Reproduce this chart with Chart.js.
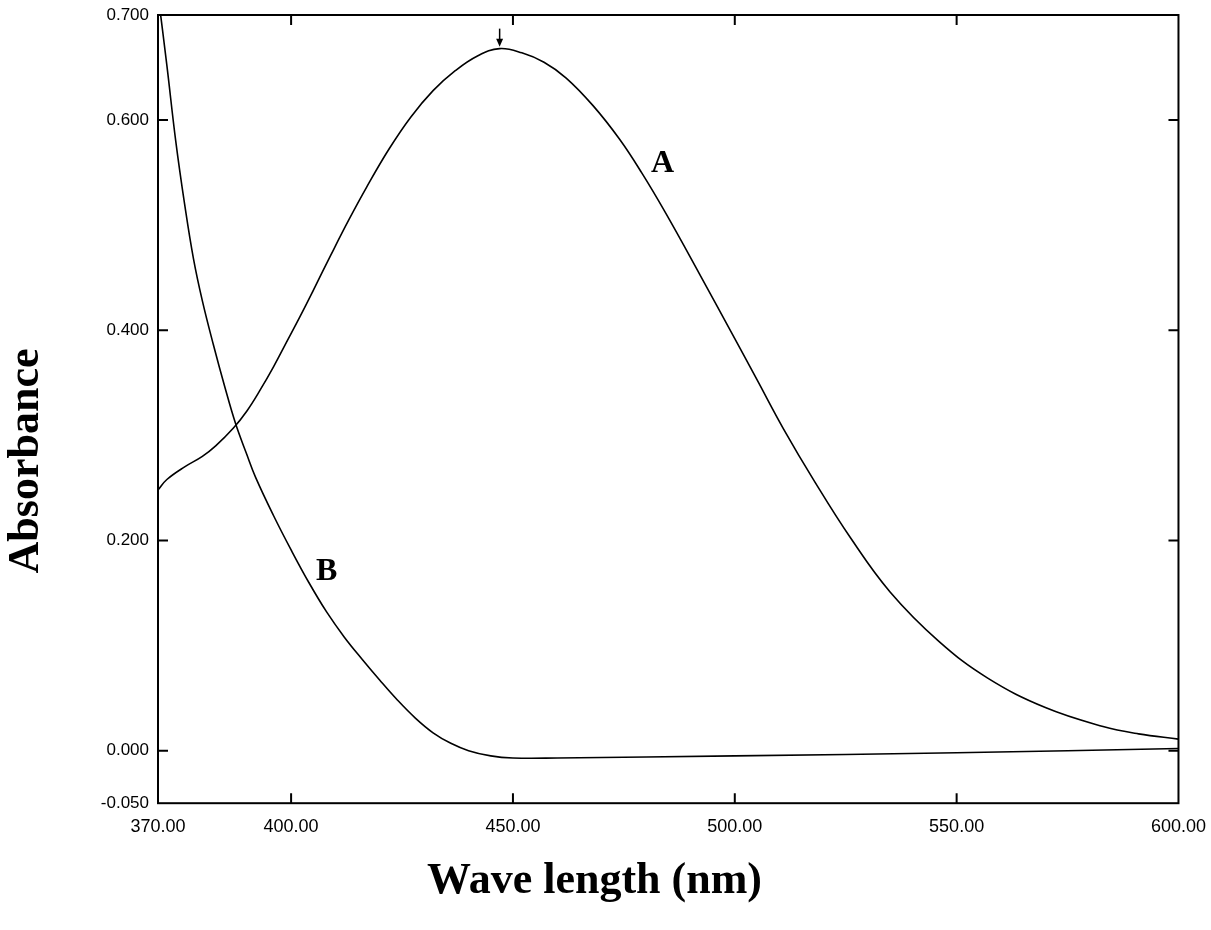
<!DOCTYPE html>
<html>
<head>
<meta charset="utf-8">
<script src="https://cdn.jsdelivr.net/npm/chart.js@4.4.1/dist/chart.umd.min.js"></script>
<style>
html, body { margin: 0; padding: 0; background: #fff; }
#wrap { width: 1211px; height: 930px; }
</style>
</head>
<body>
<div id="wrap"><canvas id="spectrum"></canvas></div>
<script>
// curve A : wavelength (nm) / absorbance
var waveA = [370, 372, 376, 380, 383, 387, 390, 393, 396, 399, 402, 405, 409, 413, 417, 422, 427, 432, 437, 442, 447,
  452, 457, 462, 468, 474, 479, 484.5, 492, 500, 505, 511, 518, 526, 535, 546, 557, 570, 583, 591, 600];
var absA = [0.248, 0.258, 0.270, 0.280, 0.290, 0.307, 0.323, 0.343, 0.365, 0.389, 0.413, 0.438, 0.472, 0.505, 0.536, 0.572, 0.603, 0.628, 0.647, 0.661, 0.668,
  0.664, 0.655, 0.640, 0.614, 0.582, 0.550, 0.511, 0.454, 0.392, 0.353, 0.306, 0.256, 0.203, 0.151, 0.104, 0.069, 0.041, 0.023, 0.016, 0.011];

// curve B
var waveB = [370, 372, 374, 376, 378, 380, 382.5, 385, 387.5, 390, 392, 396, 400, 404, 408, 412, 416, 420, 424, 428, 432, 436, 440, 445, 450, 460, 500, 550, 600];
var absB = [0.720, 0.652, 0.580, 0.520, 0.468, 0.428, 0.386, 0.347, 0.311, 0.282, 0.260, 0.224, 0.191, 0.160, 0.132, 0.108, 0.087, 0.067, 0.048, 0.031, 0.017, 0.007, 0.000, -0.005, -0.007, -0.007, -0.005, -0.002, 0.002];

var xTicks = [370, 400, 450, 500, 550, 600];
var yTicks = [-0.05, 0, 0.2, 0.4, 0.6, 0.7];

var curveNames = ['A', 'B'];
var nameX = [483.7, 408.0];
var nameY = [0.558, 0.170];

function toPoints(xs, ys) {
  return xs.map(function (v, i) { return { x: v, y: ys[i] }; });
}

/*
 frame, inward ticks, peak arrow, curve names and y title
*/
var decorations = {
  id: 'decorations',
  afterDatasetsDraw: function (chart) {
    var ctx = chart.ctx;
    var area = chart.chartArea;
    var sx = chart.scales.x;
    var sy = chart.scales.y;
    var len = 10;
    ctx.save();
    ctx.strokeStyle = '#000';
    ctx.lineWidth = 2;
    ctx.strokeRect(area.left, area.top, area.right - area.left, area.bottom - area.top);

    ctx.beginPath();
    xTicks.forEach(function (v) {
      if (v === sx.min || v === sx.max) return;
      var px = sx.getPixelForValue(v);
      ctx.moveTo(px, area.bottom);
      ctx.lineTo(px, area.bottom - len);
      ctx.moveTo(px, area.top);
      ctx.lineTo(px, area.top + len);
    });
    yTicks.forEach(function (v) {
      if (v === sy.min || v === sy.max) return;
      var py = sy.getPixelForValue(v);
      ctx.moveTo(area.left, py);
      ctx.lineTo(area.left + len, py);
      ctx.moveTo(area.right, py);
      ctx.lineTo(area.right - len, py);
    });
    ctx.stroke();

    // arrow marking the maximum of A
    var iMax = absA.indexOf(Math.max.apply(null, absA));
    var ax = sx.getPixelForValue(waveA[iMax]);
    var ay = sy.getPixelForValue(absA[iMax]);
    ctx.lineWidth = 1.5;
    ctx.beginPath();
    ctx.moveTo(ax, ay - 20);
    ctx.lineTo(ax, ay - 8);
    ctx.stroke();
    ctx.beginPath();
    ctx.moveTo(ax - 3.5, ay - 10);
    ctx.lineTo(ax + 3.5, ay - 10);
    ctx.lineTo(ax, ay - 2);
    ctx.closePath();
    ctx.fillStyle = '#000';
    ctx.fill();

    ctx.font = 'bold 32px "Liberation Serif"';
    ctx.textAlign = 'center';
    ctx.textBaseline = 'middle';
    curveNames.forEach(function (name, i) {
      ctx.fillText(name, sx.getPixelForValue(nameX[i]), sy.getPixelForValue(nameY[i]));
    });

    ctx.translate(27, 461);
    ctx.rotate(-Math.PI / 2);
    ctx.font = 'bold 44px "Liberation Serif"';
    ctx.fillText('Absorbance', 0, 0);
    ctx.restore();
  }
};

function drawSpectrum() {
  var config = {
    type: 'line',
    data: {
      datasets: [{
        label: 'A',
        data: toPoints(waveA, absA),
        borderColor: '#000',
        borderWidth: 1.6,
        pointRadius: 0,
        tension: 0.4
      }, {
        label: 'B',
        data: toPoints(waveB, absB),
        borderColor: '#000',
        borderWidth: 1.6,
        pointRadius: 0,
        tension: 0.4
      }]
    },
    options: {
      responsive: true,
      maintainAspectRatio: false,
      animation: false,
      layout: { padding: { left: 0, top: 15, right: 22, bottom: 0 } },
      plugins: {
        legend: { display: false },
        tooltip: { enabled: false },
        title: {
          display: true,
          position: 'bottom',
          text: 'Wave length (nm)',
          color: '#000',
          font: { family: 'Liberation Serif', weight: 'bold', size: 44 },
          padding: { top: 0, bottom: 22 }
        }
      },
      scales: {
        x: {
          type: 'linear',
          min: 370,
          max: 600,
          afterBuildTicks: function (s) { s.ticks = xTicks.map(function (v) { return { value: v }; }); },
          afterFit: function (s) { s.height = 52; },
          grid: { display: false },
          border: { display: false },
          ticks: {
            autoSkip: false,
            maxRotation: 0,
            padding: 5,
            color: '#000',
            font: { family: 'Liberation Sans', size: 18 },
            callback: function (v) { return v.toFixed(2); }
          }
        },
        y: {
          min: -0.05,
          max: 0.7,
          afterBuildTicks: function (s) { s.ticks = yTicks.map(function (v) { return { value: v }; }); },
          afterFit: function (s) { s.width = 158; },
          grid: { display: false },
          border: { display: false },
          ticks: {
            autoSkip: false,
            padding: 1,
            color: '#000',
            font: { family: 'Liberation Sans', size: 17 },
            callback: function (v) { return v.toFixed(3); }
          }
        }
      }
    },
    plugins: [decorations]
  };
  var ctx = document.getElementById('spectrum').getContext('2d');
  window.spectrumChart = new Chart(ctx, config);
}

drawSpectrum();
</script>
</body>
</html>
